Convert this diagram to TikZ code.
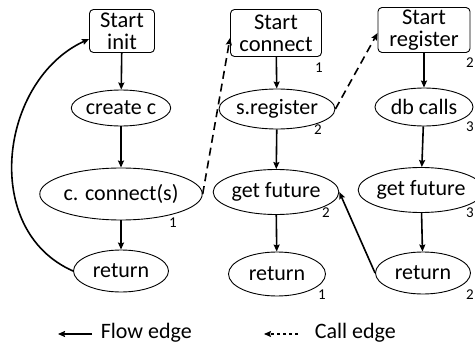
\documentclass[tikz,border=0pt]{standalone}
\usepackage{fontspec}
\setmainfont{Carlito}
\usetikzlibrary{shapes.geometric,arrows.meta}

\begin{document}
\begin{tikzpicture}[
     x = 1pt, y = -1pt, % pixel like units
     > = {Stealth[length=7pt,width=6pt,inset=1pt]}, % arrow head style
     line width = 0.9pt, % line style
     font = \fontsize{22}{24}\selectfont
 ]

 \tikzstyle{start}=[
     draw = black,
     rectangle,
     rounded corners = 4pt,
     align = center,
     inner sep = 0pt,
     font = \fontsize{22.5}{22}\selectfont
 ]
 \tikzstyle{stmt}=[
     draw = black,
     ellipse,
     inner sep = 0pt
 ]
 \tikzstyle{num}=[font = \fontsize{15}{16}\selectfont]
 \tikzstyle{flow}=[->, line width = 1.6pt]
 \tikzstyle{call}=[->, line width = 1.6pt, dash pattern = on 8pt off 5pt]

 \useasboundingbox (0,0) rectangle (475,348);

 % first function
 \node[start, minimum width = 65, minimum height = 43] (init) at (122,31) {Start\\init};
 \node[stmt, minimum width = 88, minimum height = 36] (create) at (121,108) {create c};
 \node[stmt, minimum width = 140, minimum height = 52] (conn) at (121,194) {c. connect(s)};
 \node[stmt, minimum width = 95, minimum height = 42] (ret1) at (121,271) {return};

 % second function
 \node[start, minimum width = 91, minimum height = 47] (sconn) at (276,33) {Start\\connect};
 \node[stmt, minimum width = 98, minimum height = 40] (reg) at (277,109) {s.register};
 \node[stmt, minimum width = 115, minimum height = 45] (fut2) at (276,192) {get future};
 \node[stmt, minimum width = 97, minimum height = 44] (ret2) at (277,274) {return};

 % third function
 \node[start, minimum width = 92, minimum height = 45] (sreg) at (424,30) {Start\\register};
 \node[stmt, minimum width = 98, minimum height = 38] (db) at (424,107) {db calls};
 \node[stmt, minimum width = 110, minimum height = 45] (fut3) at (421,190) {get future};
 \node[stmt, minimum width = 95, minimum height = 42] (ret3) at (423,273) {return};

 % counters
 \node[num] (n1) at (173,223) {1};
 \node[num] (n2) at (319,68) {1};
 \node[num] (n3) at (318,130) {2};
 \node[num] (n4) at (326,213) {2};
 \node[num] (n5) at (322,295) {1};
 \node[num] (n6) at (470,63) {2};
 \node[num] (n7) at (470,127) {3};
 \node[num] (n8) at (470,213) {3};
 \node[num] (n9) at (470,295) {2};

 \draw[flow] (init) -- (create);
 \draw[flow] (create) -- (conn);
 \draw[flow] (conn) -- (ret1);
 \draw[flow] (sconn) -- (reg);
 \draw[flow] (reg) -- (fut2);
 \draw[flow] (fut2) -- (ret2);
 \draw[flow] (sreg) -- (db);
 \draw[flow] (db) -- (fut3);
 \draw[flow] (fut3) -- (ret3);

 \draw[flow] (ret1.west) .. controls (-20,230) and (0,80) .. ([yshift=-8]init.west);
 \draw[flow] (ret3.west) -- (fut2.east);
 \draw[call] (conn.east) -- ([yshift=-5]sconn.west);
 \draw[call] (reg.east) -- ([yshift=-3]sreg.west);

 % legend
 \coordinate (f0) at (92,334);
 \coordinate (f1) at (58,334);
 \draw[->, line width = 1.6pt] (f0) -- (f1);
 \node[anchor = west] (flowtxt) at (97,333) {Flow edge};
 \coordinate (c0) at (298,334);
 \coordinate (c1) at (264,334);
 \draw[->, line width = 1.1pt, dash pattern = on 3pt off 3pt] (c0) -- (c1);
 \node[anchor = west] (calltxt) at (311,333) {Call edge};
\end{tikzpicture}
\end{document}
